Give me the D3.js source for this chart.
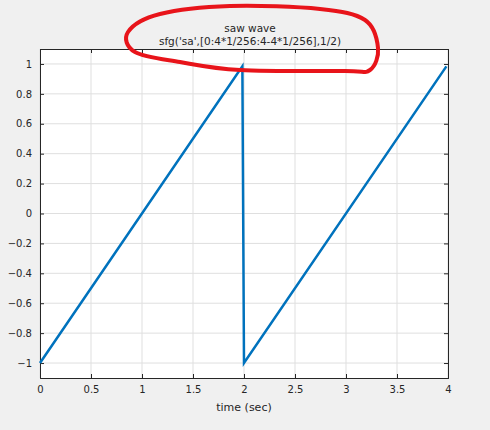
<!DOCTYPE html>
<html><head><meta charset="utf-8">
<script src="https://cdn.jsdelivr.net/npm/d3@7"></script>
<style>body{margin:0;background:#f0f0f0}svg{display:block}text{font-family:"DejaVu Sans",sans-serif;fill:#262626}</style>
</head><body><svg id="c" width="490" height="430"></svg>
<script>
const times = [0, 1.984, 2, 3.984];
const values = [-1, 0.984, -1, 0.984];
const xTicks = [0, 0.5, 1, 1.5, 2, 2.5, 3, 3.5, 4];
const yTicks = [-1, -0.8, -0.6, -0.4, -0.2, 0, 0.2, 0.4, 0.6, 0.8, 1];
const titleLines = ["saw wave", "sfg('sa',[0:4*1/256:4-4*1/256],1/2)"];
const circlePts = [[128,32],[160,14],[230,6],[320,9],[365,20],[378,48],[370,70],[345,71],[240,70],[180,62],[135,52]];

const svg = d3.select("#c");
const x = d3.scaleLinear().domain([0, 4]).range([40, 448]);
const y = d3.scaleLinear().domain([-1.1, 1.1]).range([378, 49]);

svg.append("rect").attr("x", 40).attr("y", 49).attr("width", 408).attr("height", 329).attr("fill", "#fff");
const g = svg.append("g");
g.selectAll(".gx").data(xTicks).join("line").attr("x1", d => x(d)).attr("x2", d => x(d))
  .attr("y1", 49).attr("y2", 378).attr("stroke", "#dfdfdf");
g.selectAll(".gy").data(yTicks).join("line").attr("y1", d => y(d)).attr("y2", d => y(d))
  .attr("x1", 40).attr("x2", 448).attr("stroke", "#dfdfdf");

const fmt = d => String(d).replace("-", "\u2212");
const xa = svg.append("g").attr("transform", "translate(0,378)")
  .call(d3.axisBottom(x).tickValues(xTicks).tickSize(-4).tickPadding(8).tickFormat(fmt));
const xt = svg.append("g").attr("transform", "translate(0,49)")
  .call(d3.axisTop(x).tickValues(xTicks).tickSize(-4).tickFormat(""));
const ya = svg.append("g").attr("transform", "translate(40,0)")
  .call(d3.axisLeft(y).tickValues(yTicks).tickSize(-4).tickPadding(8).tickFormat(fmt));
const yr = svg.append("g").attr("transform", "translate(448,0)")
  .call(d3.axisRight(y).tickValues(yTicks).tickSize(-4).tickFormat(""));
[xa, xt, ya, yr].forEach(a => {
  a.selectAll("path,line").attr("stroke", "#262626");
  a.selectAll("text").style("font-size", "10px").style("font-family", "DejaVu Sans").attr("fill", "#262626");
});

svg.append("path").datum(times.map((t, i) => [t, values[i]]))
  .attr("d", d3.line().x(d => x(d[0])).y(d => y(d[1])))
  .attr("fill", "none").attr("stroke", "#0072bd").attr("stroke-width", 2.5);

svg.append("text").attr("x", 244).attr("y", 411).attr("text-anchor", "middle")
  .style("font-size", "11px").text("time (sec)");
svg.selectAll(".tt").data(titleLines).join("text").attr("x", 250).attr("y", (d, i) => 32 + i * 13)
  .attr("text-anchor", "middle").style("font-size", "10.5px").text(d => d);

svg.append("path").attr("d", d3.line().curve(d3.curveCardinalClosed)(circlePts))
  .attr("fill", "none").attr("stroke", "#e8141a").attr("stroke-width", 4);
</script></body></html>
